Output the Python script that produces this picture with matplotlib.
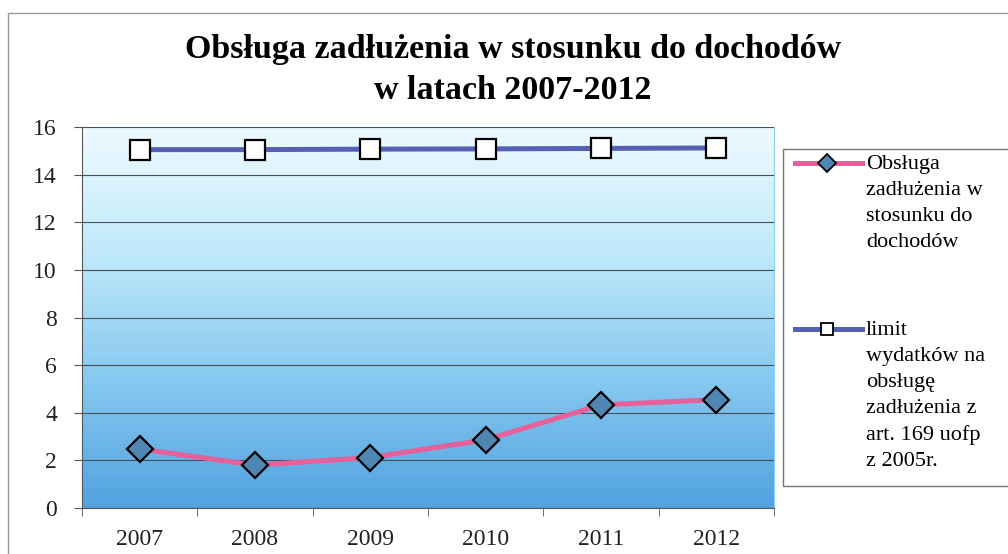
import numpy as np
import matplotlib
matplotlib.use('Agg')
import matplotlib.pyplot as plt
from matplotlib.colors import LinearSegmentedColormap
from matplotlib.lines import Line2D
from matplotlib.patches import Rectangle

# Dane
lata = ['2007', '2008', '2009', '2010', '2011', '2012']
obsluga = [2.48, 1.8, 2.12, 2.86, 4.33, 4.55]
limit = [15.05, 15.05, 15.07, 15.08, 15.1, 15.12]

etykieta_obsluga = 'Obsługa\nzadłużenia w\nstosunku do\ndochodów'
etykieta_limit = 'limit\nwydatków na\nobsługę\nzadłużenia z\nart. 169 uofp\nz 2005r.'
tytul = 'Obsługa zadłużenia w stosunku do dochodów\nw latach 2007-2012'

plt.rcParams['font.family'] = ['Liberation Serif', 'DejaVu Serif']

W, H = 1008, 554
fig = plt.figure(figsize=(W / 100, H / 100), dpi=100)

# ramka całego wykresu
fig.patches.append(Rectangle((8 / W, -0.2), 1.2, 1.2 - 13 / H,
                             transform=fig.transFigure, fill=False,
                             edgecolor='#9a9a9a', linewidth=1.0))

ax = fig.add_axes([82 / W, (H - 508) / H, (774 - 82) / W, (508 - 127) / H])

# tło z gradientem
cmap = LinearSegmentedColormap.from_list('tlo', ['#52a2e0', '#86c8ef', '#bfe9fa', '#eefaff'])
grad = np.linspace(0, 1, 256).reshape(-1, 1)
ax.imshow(grad, aspect='auto', cmap=cmap, origin='lower',
          extent=(-0.5, 5.5, 0, 16), zorder=0)

x = np.arange(len(lata))
ax.plot(x, limit, color='#5560b4', linewidth=3.6, marker='s', markersize=15,
        markerfacecolor='white', markeredgecolor='black', markeredgewidth=1.6, zorder=4)
ax.plot(x, obsluga, color='#e8609a', linewidth=3.6, marker='D', markersize=13,
        markerfacecolor='#4f86b4', markeredgecolor='black', markeredgewidth=1.6, zorder=4)

ax.set_xlim(-0.5, 5.5)
ax.set_ylim(0, 16)
ax.set_yticks(range(0, 17, 2))
ax.grid(axis='y', color='#44505a', linewidth=0.8, zorder=1)
ax.set_axisbelow(False)

ax.set_xticks(x)
ax.set_xticklabels(lata)
ax.set_xticks(np.arange(-0.5, 6, 1), minor=True)
ax.tick_params(axis='x', which='major', length=0, pad=15, labelsize=17, labelcolor='#222222')
ax.tick_params(axis='x', which='minor', length=6, color='#555555')
ax.tick_params(axis='y', length=6, pad=12, labelsize=17, color='#555555', labelcolor='#222222')

for s in ['top', 'right']:
    ax.spines[s].set_color('#8ccff2')
ax.spines['left'].set_color('#555555')
ax.spines['bottom'].set_color('#555555')

fig.text(513 / W, 1 - 70 / H, tytul, ha='center', va='center', fontsize=24.5,
         fontweight='bold', linespacing=1.42)

# legenda
fig.patches.append(Rectangle((783 / W, (H - 486) / H), 0.5, (486 - 149) / H,
                             transform=fig.transFigure, fill=False,
                             edgecolor='#777777', linewidth=1.0))
for y_px, kolor, znak, twarz, etyk in [
        (163, '#e8609a', 'D', '#4f86b4', etykieta_obsluga),
        (329, '#5560b4', 's', 'white', etykieta_limit)]:
    yy = 1 - y_px / H
    fig.add_artist(Line2D([795 / W, 862 / W], [yy, yy], transform=fig.transFigure,
                          color=kolor, linewidth=3.6))
    fig.add_artist(Line2D([827 / W], [yy], transform=fig.transFigure, marker=znak,
                          markersize=9, markerfacecolor=twarz, markeredgecolor='black',
                          markeredgewidth=1.3))
    fig.text(866 / W, yy + 8 / H, etyk, ha='left', va='top', fontsize=16,
             linespacing=1.5)

fig.savefig('out.png', dpi=100)
